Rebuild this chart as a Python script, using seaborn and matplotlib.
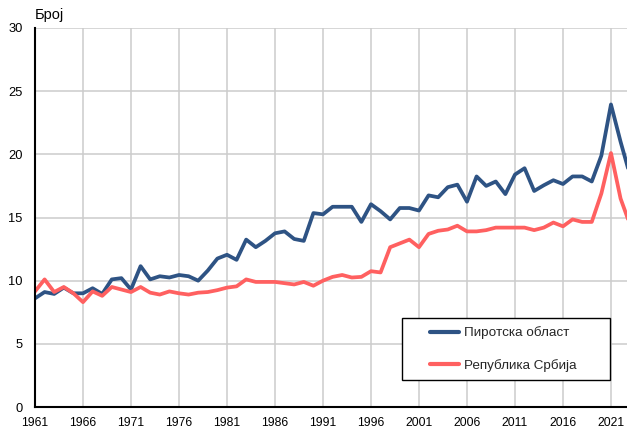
import numpy as np
import pandas as pd
import matplotlib
matplotlib.use("Agg")
import matplotlib.pyplot as plt
from matplotlib.patches import Rectangle
import seaborn as sns

years = list(range(1961, 2024))
pirot = [8.6, 9.1, 8.95, 9.45, 9.0, 9.0, 9.4, 8.95, 10.1, 10.2,
         9.3, 11.15, 10.1, 10.35, 10.25, 10.45, 10.35, 10.0, 10.8, 11.75,
         12.05, 11.65, 13.25, 12.65, 13.15, 13.75, 13.9, 13.3, 13.15, 15.35,
         15.25, 15.85, 15.85, 15.85, 14.65, 16.05, 15.5, 14.85, 15.75, 15.75,
         15.55, 16.75, 16.6, 17.4, 17.6, 16.25, 18.25, 17.5, 17.85, 16.85,
         18.4, 18.9, 17.1, 17.55, 17.95, 17.65, 18.25, 18.25, 17.85, 19.9,
         23.95, 21.0, 18.3]
serbia = [9.15, 10.1, 9.1, 9.5, 9.0, 8.3, 9.15, 8.8, 9.5, 9.3,
          9.1, 9.5, 9.05, 8.9, 9.15, 9.0, 8.9, 9.05, 9.1, 9.25,
          9.45, 9.55, 10.1, 9.9, 9.9, 9.9, 9.8, 9.7, 9.9, 9.6,
          10.0, 10.3, 10.45, 10.25, 10.3, 10.75, 10.65, 12.65, 12.95, 13.25,
          12.65, 13.7, 13.95, 14.05, 14.35, 13.9, 13.9, 14.0, 14.2, 14.2,
          14.2, 14.2, 14.0, 14.2, 14.6, 14.3, 14.85, 14.65, 14.65, 16.9,
          20.1, 16.5, 14.4]
series_names = ["Пиротска област", "Република Србија"]
colors = ["#2e5384", "#ff6060"]
xticks = list(range(1961, 2022, 5))
yticks = [0, 5, 10, 15, 20, 25, 30]
ylabel = "Број"

df = pd.DataFrame({
    "year": years * 2,
    "value": pirot + serbia,
    "series": [series_names[0]] * len(years) + [series_names[1]] * len(years),
})

sns.set_theme(style="white")
plt.rcParams["font.family"] = ["Liberation Sans", "DejaVu Sans"]

fig = plt.figure(figsize=(6.27, 4.28), dpi=100)
ax = fig.add_axes([35 / 627, 1 - 407 / 428, 1 - 35 / 627, (407 - 28) / 428])

sns.lineplot(data=df, x="year", y="value", hue="series", palette=colors,
             linewidth=2.7, ax=ax, legend=True)

ax.set_xlim(1961, 2022.67)
ax.set_ylim(0, 30)
ax.set_xticks(xticks)
ax.set_yticks(yticks)
ax.set_xticklabels([str(x) for x in xticks], fontsize=8.7, color="black")
ax.set_yticklabels([str(y) for y in yticks], fontsize=9.3, color="black")
ax.tick_params(axis="y", length=0, pad=9)
ax.tick_params(axis="x", length=0, pad=7)
ax.set_xlabel("")
ax.set_ylabel("")
ax.grid(True, color="#cccccc", linewidth=1.1)
ax.set_axisbelow(True)
for s in ["top", "right"]:
    ax.spines[s].set_visible(False)
for s in ["left", "bottom"]:
    ax.spines[s].set_color("black")
    ax.spines[s].set_linewidth(1.5)

ax.text(0.0, 1.016, ylabel, transform=ax.transAxes, fontsize=10.5,
        ha="left", va="bottom", color="black")

# legend box frame
ax.add_patch(Rectangle((0.62, 0.071), 0.3514, 0.1636, transform=ax.transAxes,
                       facecolor="white", edgecolor="black", linewidth=1.0,
                       zorder=4))
leg = ax.legend(loc="center", bbox_to_anchor=(0.7905, 0.153),
                frameon=False, fontsize=9.7,
                handlelength=2.2, borderpad=0.0, labelspacing=1.44,
                handletextpad=0.35, borderaxespad=0)
leg.set_zorder(5)
for line in leg.get_lines():
    line.set_linewidth(3.0)

fig.savefig("out.png", dpi=100)
